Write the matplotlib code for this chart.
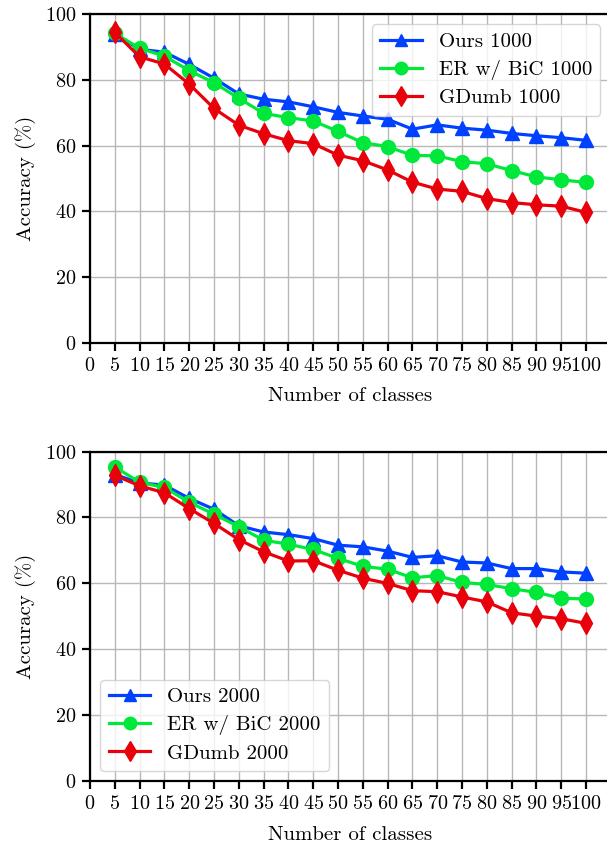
import matplotlib
matplotlib.use("Agg")
import matplotlib.pyplot as plt

plt.rcParams['font.family'] = 'serif'
plt.rcParams['font.serif'] = ['cmr10', 'DejaVu Serif']
plt.rcParams['mathtext.fontset'] = 'cm'
plt.rcParams['axes.unicode_minus'] = False
plt.rcParams['axes.formatter.use_mathtext'] = True

classes = list(range(5, 101, 5))

ours_1000 = [94.0, 89.3, 88.4, 84.7, 80.5, 75.7, 74.1, 73.3, 71.8, 70.1,
             69.0, 68.0, 65.0, 66.3, 65.3, 64.7, 63.7, 63.0, 62.4, 61.6]
bic_1000 = [94.1, 89.6, 87.2, 82.8, 79.1, 74.4, 69.8, 68.5, 67.5, 64.3,
            60.9, 59.7, 57.0, 56.9, 55.1, 54.5, 52.4, 50.5, 49.6, 48.8]
gdumb_1000 = [94.4, 87.0, 84.8, 78.7, 71.3, 66.2, 63.6, 61.5, 60.6, 57.1,
              55.4, 52.6, 48.9, 46.8, 46.1, 43.9, 42.7, 42.0, 41.6, 39.7]

ours_2000 = [93.0, 90.5, 89.8, 85.8, 82.5, 77.5, 75.6, 74.8, 73.6, 71.6,
             71.1, 69.8, 67.9, 68.4, 66.5, 66.2, 64.5, 64.5, 63.5, 63.1]
bic_2000 = [95.3, 90.7, 89.1, 84.6, 81.0, 77.2, 73.1, 71.9, 70.3, 67.6,
            65.2, 64.3, 61.7, 62.4, 60.3, 59.7, 58.4, 57.3, 55.5, 55.3]
gdumb_2000 = [92.8, 89.6, 87.5, 82.7, 78.2, 73.3, 69.6, 66.8, 66.9, 64.0,
              61.6, 60.0, 57.8, 57.5, 55.9, 54.4, 51.1, 50.1, 49.3, 47.9]

blue = '#0040ff'
green = '#00e83a'
red = '#e8000b'
fs = 15

fig = plt.figure(figsize=(6.07, 8.44), dpi=100)
ax1 = fig.add_axes([0.1483, 0.5936, 0.858, 0.3898])
ax2 = fig.add_axes([0.1483, 0.0743, 0.858, 0.3907])


def draw(ax, ours, bic, gdumb, mem, loc):
    ax.plot(classes, ours, color=blue, marker='^', markersize=10, lw=2.3,
            label='Ours %d' % mem, zorder=3)
    ax.plot(classes, bic, color=green, marker='o', markersize=10, lw=2.3,
            label='ER w/ BiC %d' % mem, zorder=3)
    ax.plot(classes, gdumb, color=red, marker='d', markersize=11, lw=2.3,
            label='GDumb %d' % mem, zorder=3)
    ax.set_xlim(0, 105)
    ax.set_ylim(0, 100)
    ax.set_xticks(range(0, 101, 5))
    ax.set_yticks(range(0, 101, 20))
    ax.grid(True, color='#b8b8b8', lw=1)
    ax.set_axisbelow(True)
    ax.spines['right'].set_visible(False)
    for s in ['left', 'bottom', 'top']:
        ax.spines[s].set_linewidth(1.6)
    ax.tick_params(direction='out', length=6, width=1.6, labelsize=14.5, pad=4)
    ax.set_xlabel('Number of classes', fontsize=fs, labelpad=9)
    ax.set_ylabel('Accuracy (%)', fontsize=fs, labelpad=6)
    ax.legend(loc=loc, fontsize=fs, framealpha=0.8, edgecolor='#cccccc',
              handlelength=2.0, borderpad=0.4, labelspacing=0.42,
              markerscale=0.9)


draw(ax1, ours_1000, bic_1000, gdumb_1000, 1000, 'upper right')
draw(ax2, ours_2000, bic_2000, gdumb_2000, 2000, 'lower left')

fig.savefig('out.png', dpi=100)
